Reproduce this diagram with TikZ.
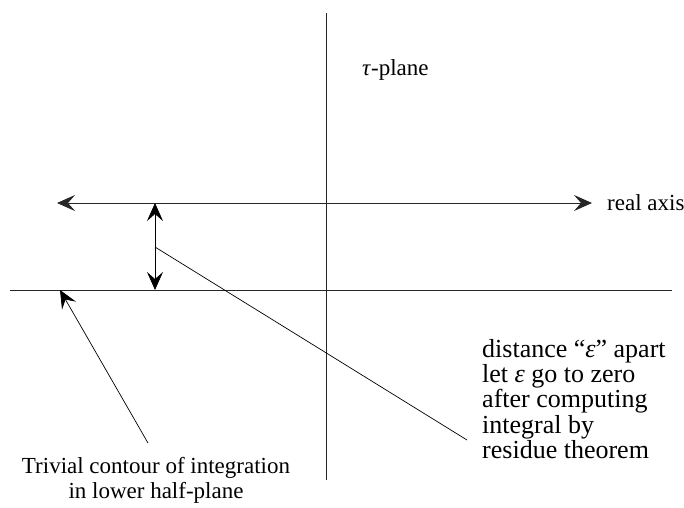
\documentclass[tikz,border=0pt]{standalone}
\usepackage{fontspec}
\setmainfont{Liberation Serif}
\usetikzlibrary{arrows.meta}

\begin{document}
\begin{tikzpicture}[
  x=1pt, y=-1pt,
  >={Stealth[length=18pt,width=16pt,inset=7pt]},
  axis/.style={line width=0.8pt, black!85},
  pointer/.style={line width=0.7pt},
  label/.style={font=\fontsize{23}{25}\selectfont, inner sep=0pt},
  remark/.style={font=\fontsize{26}{25.3}\selectfont, inner sep=0pt}
]
\useasboundingbox (0,0) rectangle (684,507);
% axes of the plane
\coordinate (vtop) at (326,13);
\coordinate (vbot) at (326,480);
\coordinate (rleft) at (57,203);
\coordinate (rright) at (592,203);
\coordinate (cleft) at (10,290);
\coordinate (cright) at (672,290);
\draw[axis] (vtop) -- (vbot);
\draw[axis, <->] (rleft) -- (rright);
\draw[axis] (cleft) -- (cright);
% gap between the two lines
\coordinate (gtop) at (155,203);
\coordinate (gbot) at (155,290);
\draw[pointer, <->] (gtop) -- (gbot);
% labels
\node[label, anchor=west] (axisname) at (607,203) {real axis};
\node[label, anchor=west] (plane) at (362,70) {\textit{τ}-plane};
\node[remark, align=left, anchor=north west] (note) at (482,339)
  {distance “\textit{ε}” apart\\let \textit{ε} go to zero\\after computing\\integral by\\residue theorem};
\node[label, align=center, anchor=north] (triv) at (156,457)
  {Trivial contour of integration\\in lower half-plane};
% pointers
\coordinate (nstart) at (155,247);
\coordinate (nend) at (467,440);
\coordinate (tstart) at (148,443);
\coordinate (tend) at (60,290);
\draw[pointer] (nstart) -- (nend);
\draw[pointer, ->] (tstart) -- (tend);
\end{tikzpicture}
\end{document}
